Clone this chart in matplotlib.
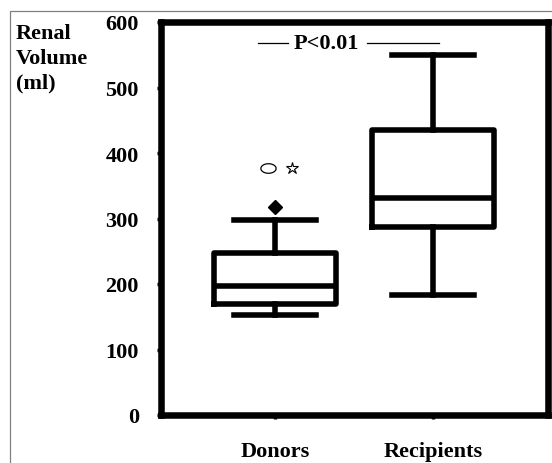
import matplotlib.pyplot as plt
import numpy as np
from matplotlib.patches import Rectangle
from matplotlib.path import Path

groups = ['Donors', 'Recipients']
whisker_low = [153, 183]
q1 = [169, 287]
medians = [197, 331]
q3 = [247, 435]
whisker_high = [298, 550]
donor_outlier = [318]
donor_extreme = [377]
p_text = 'P<0.01'
p_level = 568

plt.rcParams['font.family'] = ['Liberation Serif', 'DejaVu Serif']
plt.rcParams['font.weight'] = 'bold'

fig = plt.figure(figsize=(5.52, 4.64), dpi=100)
ax = fig.add_axes([161 / 552, 1 - 416 / 464, 387 / 552, 393 / 464])

# thin frame around the whole picture
fig.patches.append(Rectangle((10 / 552, -0.1), 1.2, 1 - 12 / 464 + 0.1,
                             transform=fig.transFigure, fill=False,
                             edgecolor='#808080', linewidth=0.9))

stats = []
for i, name in enumerate(groups):
    stats.append({
        'label': name, 'whislo': whisker_low[i], 'q1': q1[i], 'med': medians[i],
        'q3': q3[i], 'whishi': whisker_high[i], 'fliers': donor_outlier if i == 0 else [],
    })

lw = 4.0
ax.bxp(stats, positions=[1, 2], widths=0.77, showfliers=True,
       boxprops=dict(linewidth=lw, color='black'),
       medianprops=dict(linewidth=lw, color='black'),
       whiskerprops=dict(linewidth=lw, color='black'),
       capprops=dict(linewidth=lw, color='black'),
       capwidths=0.52,
       flierprops=dict(marker='D', markerfacecolor='black', markeredgecolor='black',
                       markersize=7))

# extreme outlier: small ellipse and star
theta = np.linspace(0, 2 * np.pi, 40)
ellipse = Path(np.column_stack([1.6 * np.cos(theta), np.sin(theta)]))
ax.plot([0.955], donor_extreme, marker=ellipse, markersize=11, markerfacecolor='white',
        markeredgecolor='black', markeredgewidth=0.9, linestyle='none')
ax.plot([1.105], donor_extreme, marker='*', markersize=9, markerfacecolor='white',
        markeredgecolor='black', markeredgewidth=0.8, linestyle='none')

# significance line
ax.plot([0.89, 1.08], [p_level, p_level], color='black', linewidth=0.9)
ax.plot([1.58, 2.04], [p_level, p_level], color='black', linewidth=0.9)
ax.text(1.325, p_level, p_text, ha='center', va='center', fontsize=16, fontweight='bold')

ax.set_xlim(0.278, 2.728)
ax.set_ylim(0, 600)
ax.set_yticks([0, 100, 200, 300, 400, 500, 600])
ax.set_xticks([1, 2])
ax.set_xticklabels(groups)
for s in ax.spines.values():
    s.set_linewidth(4.7)
ax.tick_params(axis='y', length=3, width=2.5, pad=13, labelsize=16)
ax.tick_params(axis='x', length=3, width=2.5, pad=16, labelsize=16)

fig.text(16 / 552, 1 - 24 / 464, 'Renal\nVolume\n(ml)', ha='left', va='top',
         fontsize=16, fontweight='bold', linespacing=1.3)

fig.savefig('out.png', dpi=100)
